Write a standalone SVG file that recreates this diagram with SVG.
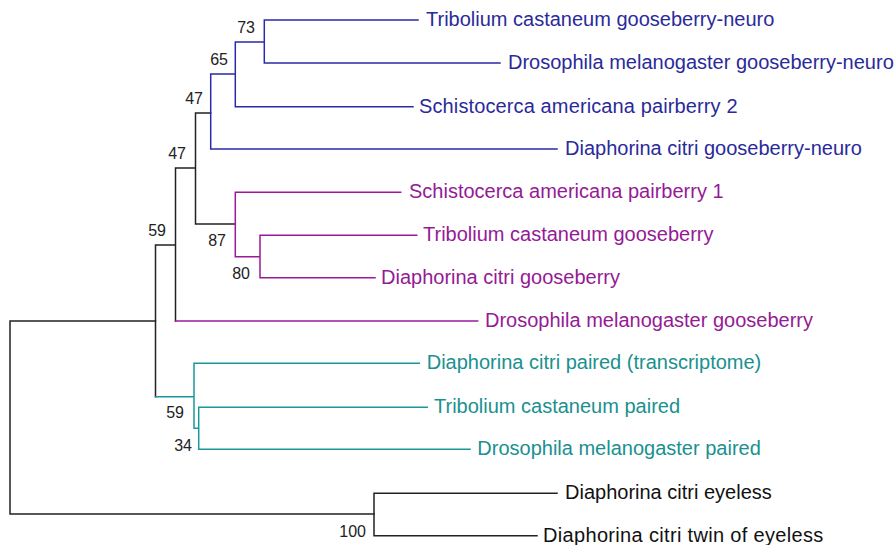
<svg xmlns="http://www.w3.org/2000/svg" width="896" height="545" viewBox="0 0 896 545">
<style>
.e{fill:none;stroke-width:1.5;stroke-linecap:square}
.k{stroke:#222}
.b{stroke:#2a2aaa}
.p{stroke:#9a1a9a}
.t{stroke:#1a9898}
text{font-family:"Liberation Sans",Arial,sans-serif}
.lb{font-size:20px}
.bt{fill:#2a2a9a}
.pt{fill:#951a95}
.tt{fill:#1a9090}
.kt{fill:#111}
.s{font-size:16px;fill:#222;text-anchor:end}
</style>
<rect width="896" height="545" fill="#fff"/>
<g id="connectors">
<path class="e k" d="M155.5,321 H10 V514 H374"/>
<path class="e k" d="M155.5,245 V396.7 M155.5,245 H175.5 M175.5,168 V321 M175.5,168 H195.5 M195.5,113 V224 M195.5,113 H210.7 M195.5,224 H235.3"/>
<path class="e k" d="M374,493.3 V535.7 M374,493.3 H557 M374,535.7 H537"/>
<path class="e b" d="M210.7,74 V149 M210.7,74 H235.3 M210.7,149 H557 M235.3,42 V106.7 M235.3,42 H264.3 M235.3,106.7 H413 M264.3,20 V63 M264.3,20 H418 M264.3,63 H500"/>
<path class="e p" d="M235.3,192.3 V256.7 M235.3,192.3 H400.7 M235.3,256.7 H260 M260,235.3 V277.7 M260,235.3 H416.7 M260,277.7 H375 M175.5,321 H477.7"/>
<path class="e t" d="M155.5,396.7 H194 M194,363.3 V428.3 M194,363.3 H419.3 M194,428.3 H198.7 M198.7,407.3 V449.3 M198.7,407.3 H427.3 M198.7,449.3 H470"/>
</g>
<g id="support">
<text class="s" x="255" y="33">73</text>
<text class="s" x="228" y="65">65</text>
<text class="s" x="203" y="104">47</text>
<text class="s" x="186" y="159">47</text>
<text class="s" x="166" y="235.5">59</text>
<text class="s" x="226" y="246">87</text>
<text class="s" x="250" y="279">80</text>
<text class="s" x="184" y="418">59</text>
<text class="s" x="192" y="450.5">34</text>
<text class="s" x="366" y="536.5">100</text>
</g>
<g id="tc-gsbn"><text class="lb bt" x="426" y="26">Tribolium castaneum gooseberry-neuro</text></g>
<g id="dm-gsbn"><text class="lb bt" x="508" y="69.3">Drosophila melanogaster gooseberry-neuro</text></g>
<g id="sa-pb2"><text class="lb bt" x="419" y="112.7" letter-spacing="0.12">Schistocerca americana pairberry 2</text></g>
<g id="dc-gsbn"><text class="lb bt" x="565" y="155">Diaphorina citri gooseberry-neuro</text></g>
<g id="sa-pb1"><text class="lb pt" x="409" y="198.3">Schistocerca americana pairberry 1</text></g>
<g id="tc-gsb"><text class="lb pt" x="423" y="241.3">Tribolium castaneum gooseberry</text></g>
<g id="dc-gsb"><text class="lb pt" x="381" y="283.7">Diaphorina citri gooseberry</text></g>
<g id="dm-gsb"><text class="lb pt" x="485" y="327">Drosophila melanogaster gooseberry</text></g>
<g id="dc-prd"><text class="lb tt" x="426.7" y="369.3">Diaphorina citri paired (transcriptome)</text></g>
<g id="tc-prd"><text class="lb tt" x="434" y="412.7">Tribolium castaneum paired</text></g>
<g id="dm-prd"><text class="lb tt" x="477.3" y="455.3">Drosophila melanogaster paired</text></g>
<g id="dc-ey"><text class="lb kt" x="565" y="499.3">Diaphorina citri eyeless</text></g>
<g id="dc-toy"><text class="lb kt" x="543" y="541.7" letter-spacing="0.33">Diaphorina citri twin of eyeless</text></g>
</svg>
